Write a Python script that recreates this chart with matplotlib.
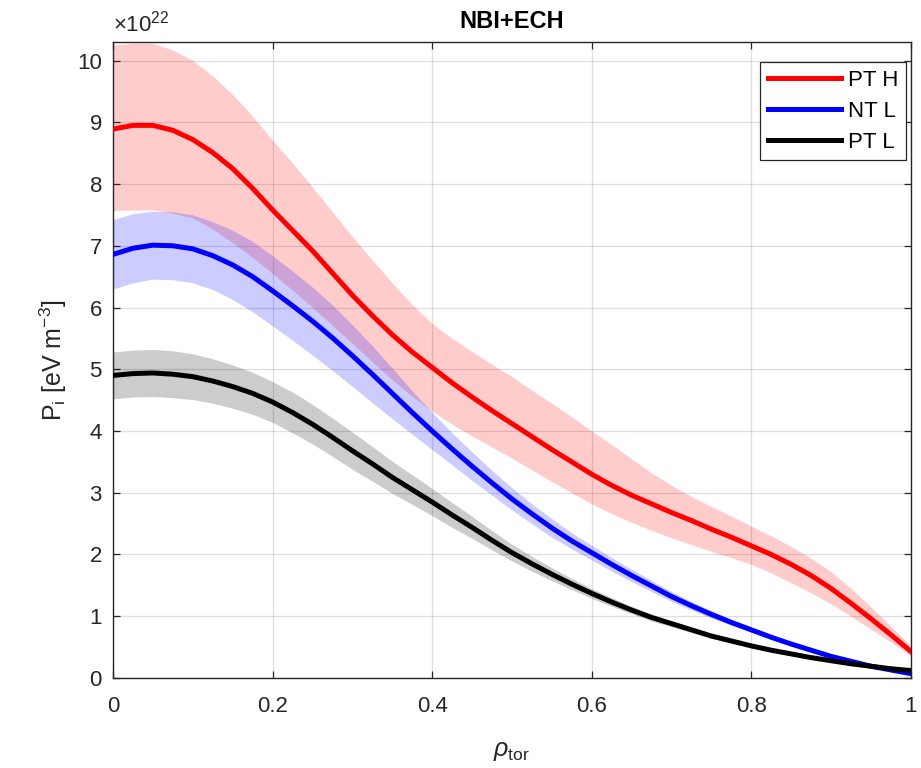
import matplotlib
matplotlib.use("Agg")
import matplotlib.pyplot as plt
import numpy as np

plt.rcParams['font.family'] = ['Liberation Sans', 'DejaVu Sans']
plt.rcParams['mathtext.fontset'] = 'custom'
plt.rcParams['mathtext.rm'] = 'Liberation Sans'
plt.rcParams['mathtext.it'] = 'Liberation Sans:italic'
plt.rcParams['mathtext.bf'] = 'Liberation Sans:bold'

# normalised toroidal radius, sampled every 0.025
rho = np.linspace(0.0, 1.0, 41)

# ion pressure, units of 1e22 eV m^-3
pt_h = [8.89, 8.95, 8.95, 8.87, 8.72, 8.51, 8.25, 7.93, 7.58, 7.25, 6.92,
        6.56, 6.20, 5.87, 5.56, 5.28, 5.03, 4.78, 4.55, 4.33, 4.12,
        3.91, 3.70, 3.50, 3.30, 3.12, 2.96, 2.82, 2.68, 2.55, 2.41,
        2.28, 2.14, 2.00, 1.84, 1.66, 1.45, 1.21, 0.96, 0.70, 0.43]
pt_h_up = [10.25, 10.28, 10.28, 10.17, 10.00, 9.75, 9.45, 9.10, 8.71, 8.34, 7.95,
           7.55, 7.15, 6.77, 6.40, 6.05, 5.74, 5.50, 5.29, 5.08, 4.88,
           4.66, 4.45, 4.23, 4.00, 3.78, 3.55, 3.32, 3.12, 2.94, 2.78,
           2.62, 2.46, 2.30, 2.13, 1.94, 1.72, 1.45, 1.15, 0.84, 0.52]
pt_h_lo = [7.57, 7.58, 7.58, 7.53, 7.45, 7.27, 7.05, 6.81, 6.55, 6.28, 6.00,
           5.71, 5.42, 5.12, 4.83, 4.56, 4.32, 4.11, 3.92, 3.74, 3.56,
           3.37, 3.18, 3.00, 2.82, 2.66, 2.52, 2.39, 2.27, 2.16, 2.05,
           1.95, 1.84, 1.70, 1.54, 1.38, 1.20, 1.00, 0.79, 0.58, 0.36]

nt_l = [6.86, 6.96, 7.01, 7.00, 6.95, 6.84, 6.69, 6.50, 6.27, 6.03, 5.78,
        5.51, 5.22, 4.92, 4.61, 4.30, 4.00, 3.71, 3.43, 3.16, 2.90,
        2.66, 2.43, 2.22, 2.03, 1.84, 1.66, 1.49, 1.32, 1.17, 1.03,
        0.90, 0.78, 0.66, 0.55, 0.45, 0.35, 0.27, 0.19, 0.13, 0.07]
nt_l_up = [7.42, 7.52, 7.56, 7.55, 7.50, 7.39, 7.25, 7.07, 6.84, 6.59, 6.33,
           6.04, 5.72, 5.38, 5.02, 4.65, 4.30, 3.97, 3.66, 3.36, 3.08,
           2.82, 2.58, 2.35, 2.15, 1.95, 1.76, 1.58, 1.40, 1.24, 1.09,
           0.95, 0.82, 0.695, 0.58, 0.475, 0.37, 0.288, 0.205, 0.142, 0.08]
nt_l_lo = [6.30, 6.40, 6.46, 6.45, 6.40, 6.29, 6.13, 5.93, 5.70, 5.47, 5.23,
           4.98, 4.72, 4.46, 4.20, 3.95, 3.70, 3.45, 3.20, 2.96, 2.72,
           2.50, 2.28, 2.09, 1.91, 1.73, 1.56, 1.40, 1.24, 1.10, 0.97,
           0.85, 0.74, 0.625, 0.52, 0.425, 0.33, 0.252, 0.175, 0.118, 0.06]

pt_l = [4.90, 4.93, 4.94, 4.92, 4.88, 4.81, 4.72, 4.61, 4.47, 4.30, 4.11,
        3.90, 3.68, 3.47, 3.25, 3.05, 2.85, 2.64, 2.44, 2.23, 2.03,
        1.85, 1.68, 1.52, 1.37, 1.23, 1.10, 0.98, 0.88, 0.78, 0.68,
        0.60, 0.52, 0.45, 0.39, 0.33, 0.28, 0.23, 0.19, 0.15, 0.12]
pt_l_up = [5.28, 5.31, 5.32, 5.30, 5.25, 5.17, 5.07, 4.95, 4.80, 4.63, 4.43,
           4.21, 3.98, 3.75, 3.51, 3.29, 3.07, 2.84, 2.62, 2.385, 2.165,
           1.97, 1.785, 1.61, 1.45, 1.30, 1.16, 1.035, 0.93, 0.825, 0.72,
           0.635, 0.55, 0.478, 0.415, 0.352, 0.30, 0.25, 0.21, 0.17, 0.14]
pt_l_lo = [4.52, 4.55, 4.56, 4.54, 4.51, 4.45, 4.37, 4.27, 4.14, 3.97, 3.79,
           3.59, 3.38, 3.19, 2.99, 2.81, 2.63, 2.44, 2.26, 2.075, 1.895,
           1.73, 1.575, 1.43, 1.29, 1.16, 1.04, 0.925, 0.83, 0.735, 0.64,
           0.565, 0.49, 0.422, 0.365, 0.308, 0.26, 0.21, 0.17, 0.13, 0.10]

labels = ["PT H", "NT L", "PT L"]
colors = ["#ff0000", "#0000ff", "#000000"]

xticks = [0, 0.2, 0.4, 0.6, 0.8, 1]
xticklabels = ["0", "0.2", "0.4", "0.6", "0.8", "1"]
yticks = list(range(0, 11))

fig = plt.figure(figsize=(9.21, 7.68), dpi=100)
ax = fig.add_axes([0.1227, 0.1172, 0.8663, 0.8281])

series = [(pt_h, pt_h_lo, pt_h_up), (nt_l, nt_l_lo, nt_l_up), (pt_l, pt_l_lo, pt_l_up)]
for (c, lo, up), col in zip(series, colors):
    ax.fill_between(rho, lo, up, color=col, alpha=0.2, linewidth=0, zorder=2)
for (c, lo, up), col, lab in zip(series, colors, labels):
    ax.plot(rho, c, color=col, lw=3.6, label=lab, zorder=3)

ax.set_xlim(0, 1)
ax.set_ylim(0, 10.3)
ax.set_xticks(xticks)
ax.set_xticklabels(xticklabels)
ax.set_yticks(yticks)
ax.grid(True, color='#262626', alpha=0.15, linewidth=0.9, zorder=1)
ax.set_axisbelow(True)
ax.tick_params(direction='in', top=True, right=True, labelsize=16,
               colors='#262626', length=5, width=0.9)
ax.tick_params(axis='x', pad=13)
ax.tick_params(axis='y', pad=8)
for s in ax.spines.values():
    s.set_color('#262626')
    s.set_linewidth(1.0)

ax.set_xlabel(r"$\rho_{\rm tor}$", fontsize=18, color='#262626', labelpad=16)
ax.set_ylabel(r"P$_{\rm i}$ [eV m$^{-3}$]", fontsize=18, color='#262626', labelpad=6)
ax.set_title("NBI+ECH", fontsize=17, fontweight='bold', color='black', pad=10)
ax.text(0.0, 1.008, r"$\times$10$^{22}$", transform=ax.transAxes, fontsize=16,
        color='#262626', ha='left', va='bottom')

leg = ax.legend(loc='upper right', bbox_to_anchor=(0.994, 0.969), fontsize=16,
                handlelength=3.3, handletextpad=0.3, borderpad=0.35,
                labelspacing=0.45, fancybox=False, framealpha=1,
                edgecolor='#262626', borderaxespad=0)
leg.get_frame().set_linewidth(0.9)

fig.savefig("out.png", dpi=100)
